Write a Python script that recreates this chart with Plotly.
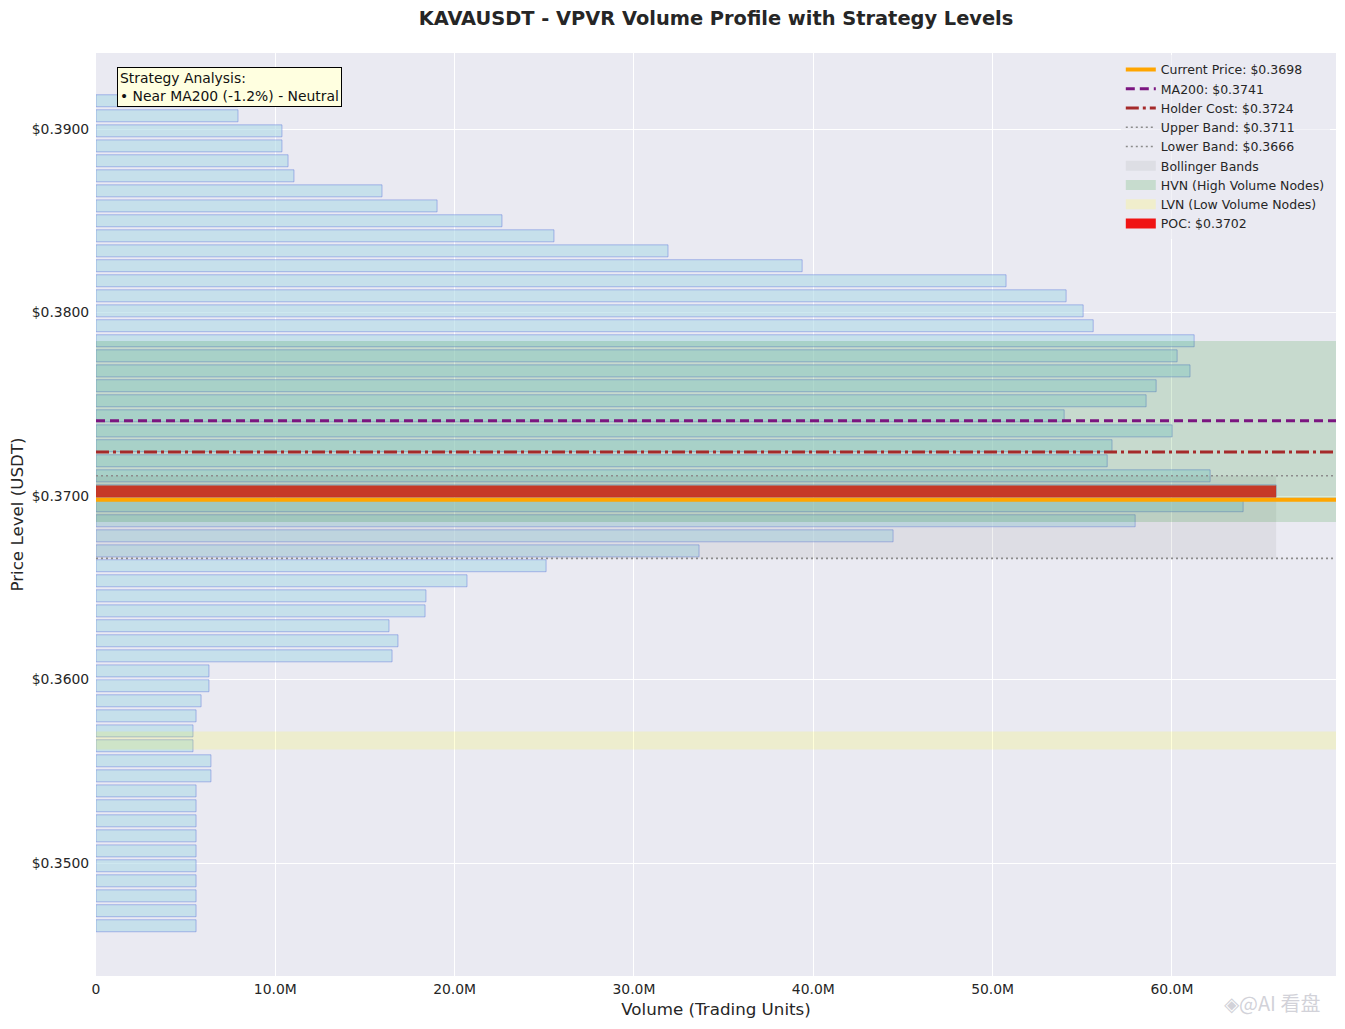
import plotly.graph_objects as go

# ---------------- data ----------------
price_levels = [
    0.39154, 0.39072, 0.38990, 0.38908, 0.38827, 0.38745, 0.38663, 0.38581,
    0.38500, 0.38418, 0.38336, 0.38255, 0.38173, 0.38091, 0.38009, 0.37928,
    0.37846, 0.37764, 0.37682, 0.37601, 0.37519, 0.37437, 0.37355, 0.37274,
    0.37192, 0.37110, 0.37028, 0.36947, 0.36865, 0.36783, 0.36701, 0.36620,
    0.36538, 0.36456, 0.36374, 0.36293, 0.36211, 0.36129, 0.36047, 0.35966,
    0.35884, 0.35802, 0.35720, 0.35639, 0.35557, 0.35475, 0.35393, 0.35312,
    0.35230, 0.35148, 0.35066, 0.34985, 0.34903, 0.34821, 0.34740, 0.34658,
]
volumes_m = [
    7.90, 7.92, 10.37, 10.37, 10.71, 11.04, 15.95, 19.02,
    22.64, 25.54, 31.90, 39.38, 50.75, 54.10, 55.05, 55.61,
    61.24, 60.29, 61.01, 59.12, 58.56, 53.99, 60.01, 56.66,
    56.39, 62.13, 65.81, 63.97, 57.95, 44.45, 33.63, 25.10,
    20.69, 18.40, 18.35, 16.34, 16.84, 16.51, 6.30, 6.30,
    5.86, 5.58, 5.41, 5.41, 6.41, 6.41, 5.58, 5.58,
    5.58, 5.58, 5.58, 5.58, 5.58, 5.58, 5.58, 5.58,
]
volumes = [v * 1e6 for v in volumes_m]

poc_price = 0.37024
poc_volume = 65.81e6
current_price = 0.3698
ma200 = 0.3741
holder_cost = 0.3724
upper_band = 0.3711
lower_band = 0.3666
hvn_range = [0.36858, 0.37845]
lvn_range = [0.35619, 0.35717]

x_tick_vals = [0, 10e6, 20e6, 30e6, 40e6, 50e6, 60e6]
x_tick_text = ["0", "10.0M", "20.0M", "30.0M", "40.0M", "50.0M", "60.0M"]
y_tick_vals = [0.35, 0.36, 0.37, 0.38, 0.39]
y_tick_text = ["$0.3500", "$0.3600", "$0.3700", "$0.3800", "$0.3900"]

bin_size = 0.00081744
x_max = 69.15e6
y_range = [0.343842, 0.394142]

FONT = "DejaVu Sans"
TXT = "#262626"

fig = go.Figure()

# volume profile bars
fig.add_trace(go.Bar(
    x=volumes, y=price_levels, orientation="h", width=bin_size * 0.8,
    marker=dict(color="rgba(173,216,230,0.6)",
                line=dict(color="rgba(90,115,220,0.45)", width=1)),
    showlegend=False, hoverinfo="x+y",
))
# POC bar
fig.add_trace(go.Bar(
    x=[poc_volume], y=[poc_price], orientation="h", width=bin_size * 0.8,
    marker=dict(color="rgba(255,0,0,0.85)", line=dict(width=0)),
    showlegend=False,
))

def band(lo, hi, xr, color):
    return go.Scatter(
        x=[xr[0], xr[1], xr[1], xr[0], xr[0]], y=[lo, lo, hi, hi, lo],
        fill="toself", fillcolor=color, mode="lines", line=dict(width=0),
        showlegend=False, hoverinfo="skip",
    )

fig.add_trace(band(lower_band, upper_band, [0, poc_volume], "rgba(128,128,128,0.12)"))
fig.add_trace(band(hvn_range[0], hvn_range[1], [0, x_max], "rgba(0,128,0,0.15)"))
fig.add_trace(band(lvn_range[0], lvn_range[1], [0, x_max], "rgba(255,255,0,0.15)"))

# horizontal level lines
lines = [
    (f"Current Price: ${current_price:.4f}", current_price, "#FFA500", 4, "solid"),
    (f"MA200: ${ma200:.4f}", ma200, "#7B1580", 3, "9px,5px"),
    (f"Holder Cost: ${holder_cost:.4f}", holder_cost, "#A52A2A", 3, "13px,4px,3px,4px"),
    (f"Upper Band: ${upper_band:.4f}", upper_band, "#8c8c8c", 1.6, "2px,3px"),
    (f"Lower Band: ${lower_band:.4f}", lower_band, "#8c8c8c", 1.6, "2px,3px"),
]
rank = 1
for name, yv, col, w, dash in lines:
    fig.add_trace(go.Scatter(
        x=[0, x_max], y=[yv, yv], mode="lines", name=name,
        line=dict(color=col, width=w, dash=dash), legendrank=rank,
        hoverinfo="name",
    ))
    rank += 1

# legend patches
patches = [
    ("Bollinger Bands", "rgb(221,222,228)"),
    ("HVN (High Volume Nodes)", "rgb(199,220,206)"),
    ("LVN (Low Volume Nodes)", "rgb(240,238,204)"),
    (f"POC: ${poc_price:.4f}", "rgb(240,20,20)"),
]
for name, col in patches:
    fig.add_trace(go.Scatter(
        x=[None], y=[None], mode="lines", name=name,
        line=dict(color=col, width=10), legendrank=rank,
    ))
    rank += 1

fig.update_layout(
    width=1345, height=1029,
    margin=dict(l=96, r=9, t=53, b=53),
    paper_bgcolor="white", plot_bgcolor="#EAEAF2",
    font=dict(family=FONT, color=TXT, size=13.9),
    barmode="overlay",
    title=dict(text="KAVAUSDT - VPVR Volume Profile with Strategy Levels",
               x=(96 + 1336) / 2 / 1345, xanchor="center",
               y=1 - 18 / 1029, yanchor="middle",
               font=dict(size=19.4, family=FONT, color=TXT, weight="bold")),
    legend=dict(x=0.995, y=0.998, xanchor="right", yanchor="top",
                bgcolor="rgba(234,234,242,0.6)", borderwidth=0,
                font=dict(size=12.5, family=FONT, color=TXT),
                tracegroupgap=0, itemwidth=30),
    xaxis=dict(range=[0, x_max], tickvals=x_tick_vals, ticktext=x_tick_text,
               showgrid=True, gridcolor="white", gridwidth=1, zeroline=False,
               ticks="outside", ticklen=0, tickcolor="rgba(0,0,0,0)",
               tickfont=dict(size=13.9, color=TXT),
               title=dict(text="Volume (Trading Units)", standoff=7,
                          font=dict(size=16.7, color=TXT))),
    yaxis=dict(range=y_range, tickvals=y_tick_vals, ticktext=y_tick_text,
               showgrid=True, gridcolor="white", gridwidth=1, zeroline=False,
               ticks="outside", ticklen=3, tickcolor="rgba(0,0,0,0)",
               tickfont=dict(size=13.9, color=TXT),
               title=dict(text="Price Level (USDT)", standoff=3,
                          font=dict(size=16.7, color=TXT))),
    annotations=[
        dict(text="Strategy Analysis:<br>• Near MA200 (-1.2%) - Neutral",
             xref="paper", yref="paper", x=(117 - 96) / 1240, y=1 - (67 - 53) / 923,
             xanchor="left", yanchor="top", align="left", showarrow=False,
             bgcolor="#FFFFE0", bordercolor="#000000", borderwidth=1, borderpad=2,
             font=dict(size=13.9, family=FONT, color="#111111")),
        dict(text="◈@AI 看盘", xref="paper", yref="paper",
             x=(1272 - 96) / 1240, y=1 - (1002 - 53) / 923,
             xanchor="center", yanchor="middle", showarrow=False,
             font=dict(size=20, family="Noto Sans CJK SC", color="rgba(190,190,200,0.7)")),
    ],
)

fig.write_html("out.html", config={"displayModeBar": False},
               post_script="document.body.style.margin='0px';")
